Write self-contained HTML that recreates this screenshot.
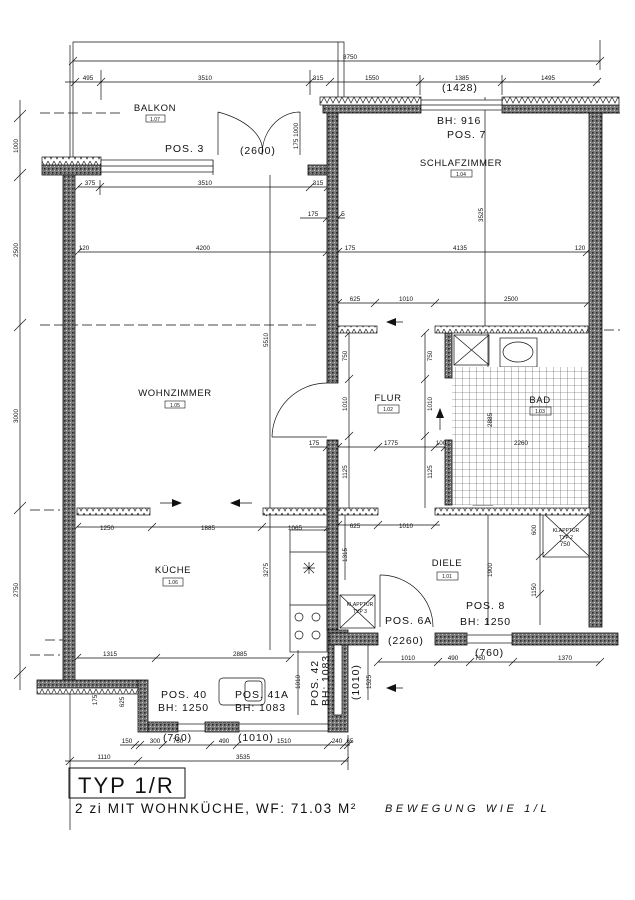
<!DOCTYPE html>
<html><head><meta charset="utf-8"><style>
html,body{margin:0;padding:0;background:#fff;}
svg{display:block;}
text{font-family:"Liberation Sans",sans-serif;fill:#111;}
.d{font-size:6.3px;}
.r{font-size:9.5px;letter-spacing:0.6px;}
.p{font-size:10.5px;letter-spacing:0.9px;}
</style></head><body>
<svg width="635" height="900" viewBox="0 0 635 900" xmlns="http://www.w3.org/2000/svg">
<defs>
<pattern id="zz" width="6" height="8" patternUnits="userSpaceOnUse"><rect width="6" height="8" fill="#fff"/><polyline points="0,1 3,7 6,1" fill="none" stroke="#222" stroke-width="0.7"/></pattern>
<pattern id="st" width="4" height="4" patternUnits="userSpaceOnUse"><rect width="4" height="4" fill="#7a7a7a"/><rect x="0" y="0" width="1.5" height="1.5" fill="#222"/><rect x="2" y="2" width="1" height="1" fill="#ccc"/></pattern>
<pattern id="tile" width="7" height="7" patternUnits="userSpaceOnUse"><rect width="7" height="7" fill="#fff"/><path d="M0 0H7M0 0V7" stroke="#444" stroke-width="0.6"/></pattern>
</defs>
<g stroke="#111" stroke-width="0.7" fill="none">
<path d="M73 158V42H344V97M70 158V45M338 42V97M213 160V175"/>
<path d="M20 100V690M14 122l12-12M14 181l12-12M14 331l12-12M14 514l12-12M14 679l12-12"/>
<path d="M40 113H120M560 113H620M40 325H320M590 330H620M30 510H60M45 640H70M30 655H60" stroke-dasharray="10 4"/>
<path d="M73 61H600M69 65l8-8M596 65l8-8M600 40V70"/>
<path d="M65 82H600M71 86l8-8M97 86l8-8M306 86l8-8M326 86l8-8M416 86l8-8M498 86l8-8M593 86l8-8M101 70V100M310 70V95M420 75V95M502 75V95"/>
<path d="M78 187H330M74 191l8-8M96 191l8-8M306 191l8-8M324 191l8-8M100 180V195"/>
<path d="M300 218H345M323 222l8-8M334 222l8-8"/>
<path d="M78 252H590M74 256l8-8M323 256l8-8M334 256l8-8M583 256l8-8"/>
<path d="M338 303H588M334 307l8-8M371 307l8-8M431 307l8-8M584 307l8-8"/>
<path d="M310 447H588M323 451l8-8M334 451l8-8M374 451l8-8M431 451l8-8M441 451l8-8M584 451l8-8"/>
<path d="M77 527H330M73 531l8-8M148 531l8-8M258 531l8-8M324 531l8-8M338 525H440M334 529l8-8M374 529l8-8M431 529l8-8"/>
<path d="M77 658H290M73 662l8-8M152 662l8-8M286 662l8-8"/>
<path d="M378 662H600M374 666l8-8M434 666l8-8M466 666l8-8M509 666l8-8M596 666l8-8"/>
<path d="M120 745H350M131 749l8-8M136 749l8-8M159 749l8-8M206 749l8-8M233 749l8-8M324 749l8-8M340 749l8-8M344 749l8-8"/>
<path d="M65 761H348M66 765l8-8M134 765l8-8M341 765l8-8M70 690V830M348 735V770"/>
<path d="M485 97V330M481 334l8-8M270 175V512M270 512V650M266 516l8-8M349 333V508M345 337l8-8M345 383l8-8M345 440l8-8M425 333V508M421 337l8-8M421 383l8-8M421 440l8-8M488 333V505M488 515V625M540 513V625M536 560l8-8M536 598l8-8M345 515V580M368 640V700M298 650V715"/>
<path d="M218 112V155M218 112A80 43 0 0 1 262 155M300 112V155M300 112A38 43 0 0 0 262 155"/>
<path d="M272 437H327M327 383A55 55 0 0 0 272 437"/>
<path d="M380 575V627M380 575A53 52 0 0 1 433 627"/>
<rect x="290" y="530" width="37" height="122"/>
<path d="M290 552H327M290 605H327"/>
<circle cx="299" cy="617" r="4"/><circle cx="316" cy="617" r="4"/><circle cx="299" cy="635" r="4"/><circle cx="316" cy="635" r="4"/>
<path d="M309 562l0 12M303 568h12M304 563l10 10M314 563l-10 10"/>
<rect x="219" y="678" width="46" height="27" rx="4"/><rect x="245" y="681" width="17" height="20" rx="3"/>
<rect x="500" y="338" width="37" height="29"/><ellipse cx="518" cy="352" rx="15" ry="10"/>
<path d="M473 505V483A10 13 0 0 1 493 483V505Z"/>
<rect x="454" y="335" width="35" height="30"/><path d="M454 335l35 30M489 335l-35 30"/>
<rect x="543" y="513" width="47" height="44"/><path d="M543 513l47 44M590 513l-47 44"/>
<rect x="340" y="595" width="35" height="33"/><path d="M340 595l35 33M375 595l-35 33"/>
<rect x="69" y="768" width="116" height="30" stroke-width="1"/>
<path d="M160 503H178M234 503H252M388 322H403M388 688H403M440 412V430"/>
</g>
<g fill="#111">
<polygon points="182,503 172,499 172,507"/><polygon points="230,503 240,499 240,507"/>
<polygon points="386,322 396,318 396,326"/><polygon points="386,688 396,684 396,692"/>
<polygon points="440,408 436,418 444,418"/>
</g>
<rect x="452" y="367" width="136" height="138" fill="url(#tile)"/>
<g fill="url(#st)" stroke="#111" stroke-width="0.8">
<rect x="63" y="165" width="12" height="515"/>
<rect x="42" y="165" width="59" height="10"/>
<rect x="308" y="165" width="28" height="10"/>
<rect x="327" y="105" width="11" height="278"/>
<rect x="327" y="440" width="11" height="190"/>
<rect x="323" y="105" width="98" height="8"/>
<rect x="502" y="105" width="117" height="8"/>
<rect x="589" y="113" width="13" height="514"/>
<rect x="445" y="333" width="7" height="45"/>
<rect x="445" y="440" width="7" height="65"/>
<rect x="328" y="630" width="20" height="102"/>
<rect x="138" y="680" width="10" height="52"/>
<rect x="148" y="722" width="30" height="10"/>
<rect x="205" y="722" width="34" height="10"/>
<rect x="37" y="680" width="101" height="8"/>
<rect x="330" y="633" width="48" height="12"/>
<rect x="435" y="633" width="32" height="12"/>
<rect x="512" y="633" width="106" height="12"/>
</g>
<g fill="url(#zz)" stroke="#111" stroke-width="0.7">
<rect x="42" y="157" width="59" height="8"/>
<rect x="320" y="97" width="101" height="8"/>
<rect x="502" y="97" width="117" height="8"/>
<rect x="77" y="508" width="73" height="7"/>
<rect x="263" y="508" width="64" height="7"/>
<rect x="338" y="326" width="39" height="7"/>
<rect x="435" y="326" width="153" height="7"/>
<rect x="338" y="508" width="40" height="7"/>
<rect x="435" y="508" width="155" height="7"/>
<rect x="37" y="688" width="101" height="6"/>
</g>
<g stroke="#111" stroke-width="0.7" fill="#fff">
<rect x="101" y="160" width="112" height="12"/><path d="M101 166H213" fill="none"/>
<rect x="421" y="100" width="81" height="10"/><path d="M421 105H502" fill="none"/>
<rect x="178" y="724" width="27" height="7"/><rect x="239" y="724" width="89" height="7"/>
<rect x="467" y="635" width="45" height="8"/>
<rect x="334" y="645" width="8" height="70"/>
</g>
<g class="d" text-anchor="middle">
<text x="350" y="59">8750</text>
<text x="88" y="80">495</text><text x="205" y="80">3510</text><text x="318" y="80">315</text><text x="372" y="80">1550</text><text x="462" y="80">1385</text><text x="548" y="80">1495</text>
<text x="90" y="185">375</text><text x="205" y="185">3510</text><text x="318" y="185">315</text>
<text x="313" y="216">175</text><text x="343" y="216">5</text>
<text x="84" y="250">120</text><text x="203" y="250">4200</text><text x="350" y="250">175</text><text x="460" y="250">4135</text><text x="580" y="250">120</text>
<text x="355" y="301">625</text><text x="406" y="301">1010</text><text x="511" y="301">2500</text>
<text x="314" y="445">175</text><text x="391" y="445">1775</text><text x="441" y="445">100</text><text x="521" y="445">2260</text>
<text x="107" y="530">1250</text><text x="208" y="530">1885</text><text x="295" y="530">1065</text><text x="355" y="528">625</text><text x="406" y="528">1010</text>
<text x="110" y="656">1315</text><text x="240" y="656">2885</text>
<text x="408" y="660">1010</text><text x="453" y="660">490</text><text x="480" y="660">760</text><text x="565" y="660">1370</text>
<text x="127" y="743">150</text><text x="155" y="743">300</text><text x="178" y="743">760</text><text x="224" y="743">490</text><text x="284" y="743">1510</text><text x="337" y="743">240</text><text x="350" y="743">65</text>
<text x="104" y="759">1110</text><text x="243" y="759">3535</text>
<text x="565" y="546">750</text>
<text transform="translate(18,146) rotate(-90)">1000</text>
<text transform="translate(18,250) rotate(-90)">2500</text>
<text transform="translate(18,416) rotate(-90)">3000</text>
<text transform="translate(18,590) rotate(-90)">2750</text>
<text transform="translate(483,215) rotate(-90)">3525</text>
<text transform="translate(268,340) rotate(-90)">5510</text>
<text transform="translate(268,570) rotate(-90)">3275</text>
<text transform="translate(347,356) rotate(-90)">750</text><text transform="translate(347,404) rotate(-90)">1010</text><text transform="translate(347,472) rotate(-90)">1125</text>
<text transform="translate(432,356) rotate(-90)">750</text><text transform="translate(432,404) rotate(-90)">1010</text><text transform="translate(432,472) rotate(-90)">1125</text>
<text transform="translate(492,420) rotate(-90)">2885</text>
<text transform="translate(347,555) rotate(-90)">1315</text>
<text transform="translate(492,570) rotate(-90)">1900</text>
<text transform="translate(536,590) rotate(-90)">1150</text>
<text transform="translate(536,530) rotate(-90)">600</text>
<text transform="translate(298,136) rotate(-90)">175 1000</text>
<text transform="translate(371,682) rotate(-90)">1525</text>
<text transform="translate(300,682) rotate(-90)">1010</text>
<text transform="translate(124,702) rotate(-90)">625</text>
<text transform="translate(97,700) rotate(-90)">175</text>
</g>
<g class="r" text-anchor="middle">
<text x="155" y="111">BALKON</text>
<text x="461" y="166">SCHLAFZIMMER</text>
<text x="175" y="396">WOHNZIMMER</text>
<text x="388" y="401">FLUR</text>
<text x="540" y="403">BAD</text>
<text x="173" y="573">KÜCHE</text>
<text x="447" y="566">DIELE</text>
</g>
<g stroke="#111" stroke-width="0.6" fill="none">
<rect x="146" y="115" width="19" height="7"/><rect x="451" y="170" width="21" height="7"/><rect x="165" y="401" width="20" height="7"/>
<rect x="378" y="405" width="21" height="8"/><rect x="530" y="407" width="21" height="8"/><rect x="163" y="578" width="20" height="8"/><rect x="437" y="572" width="21" height="8"/>
</g>
<g style="font-size:5px" text-anchor="middle">
<text x="155" y="121">1.07</text><text x="461" y="176">1.04</text><text x="175" y="407">1.05</text><text x="388" y="411">1.02</text><text x="540" y="413">1.03</text><text x="173" y="584">1.06</text><text x="447" y="578">1.01</text>
<text x="566" y="532">KLAPPTÜR</text><text x="566" y="539">TYP 2</text>
<text x="360" y="606">KLAPPTÜR</text><text x="360" y="613">TYP 3</text>
</g>
<g class="p">
<text x="165" y="152">POS. 3</text><text x="240" y="154">(2600)</text>
<text x="437" y="124">BH: 916</text><text x="447" y="138">POS. 7</text>
<text x="442" y="91">(1428)</text>
<text x="385" y="624">POS. 6A</text><text x="388" y="644">(2260)</text>
<text x="466" y="609">POS. 8</text><text x="460" y="625">BH: 1250</text><text x="475" y="656">(760)</text>
<text x="161" y="698">POS. 40</text><text x="158" y="711">BH: 1250</text>
<text x="235" y="698">POS. 41A</text><text x="235" y="711">BH: 1083</text>
<text x="163" y="741">(760)</text><text x="238" y="741">(1010)</text>
<text transform="translate(318,706) rotate(-90)">POS. 42</text>
<text transform="translate(329,706) rotate(-90)">BH: 1083</text>
<text transform="translate(359,700) rotate(-90)">(1010)</text>
</g>
<text x="78" y="793" style="font-size:22px;letter-spacing:2px">TYP 1/R</text>
<text x="75" y="813" style="font-size:13.5px;letter-spacing:1.6px">2 zi MIT WOHNKÜCHE, WF: 71.03 M²</text>
<text x="385" y="812" style="font-size:11px;letter-spacing:3.6px;font-style:italic">BEWEGUNG WIE 1/L</text>
</svg>
</body></html>
